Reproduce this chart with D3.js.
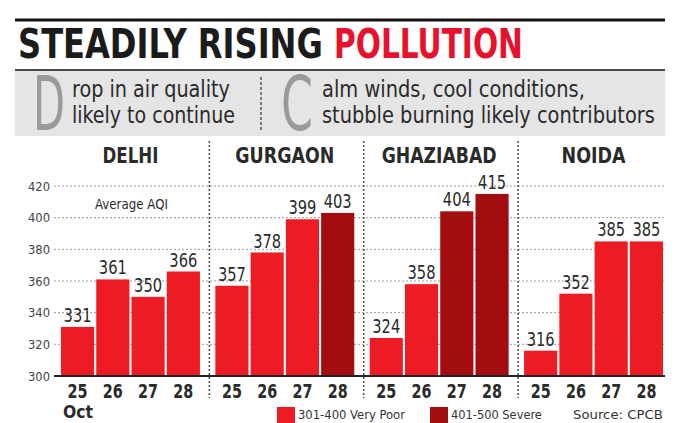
<!DOCTYPE html>
<html>
<head>
<meta charset="utf-8">
<script src="https://cdn.jsdelivr.net/npm/d3@7"></script>
<style>
  html, body { margin: 0; padding: 0; background: #fff; }
  svg { display: block; }
  text { font-family: "DejaVu Sans Condensed", "Liberation Sans Narrow", "Liberation Sans", sans-serif; }
</style>
</head>
<body>
<svg id="chart" width="680" height="423"></svg>
<script>
// ---- data ----
const cities = ["DELHI", "GURGAON", "GHAZIABAD", "NOIDA"];
const days = ["25", "26", "27", "28"];
const delhiAQI = [331, 361, 350, 366];
const gurgaonAQI = [357, 378, 399, 403];
const ghaziabadAQI = [324, 358, 404, 415];
const noidaAQI = [316, 352, 385, 385];
const yTicks = [300, 320, 340, 360, 380, 400, 420];
const legendLabels = ["301-400 Very Poor", "401-500 Severe"];
const titleDark = "STEADILY RISING";
const titleRed = "POLLUTION";
const noteLeft = ["rop in air quality", "likely to continue"];
const noteRight = ["alm winds, cool conditions,", "stubble burning likely contributors"];

const seriesByCity = [delhiAQI, gurgaonAQI, ghaziabadAQI, noidaAQI];
const red = "#ed1c24", darkRed = "#a20d10", textDark = "#2a2a2a";

const svg = d3.select("#chart");

// helper: put text at (x,y) and squeeze it horizontally to a target width
function addText(parent, x, y, str, opts, width) {
  const t = parent.append("text").attr("x", 0).attr("y", 0).text(str);
  Object.entries(opts).forEach(([k, v]) => t.attr(k, v));
  const nat = t.node().getComputedTextLength();
  const s = width ? width / nat : 1;
  t.attr("transform", `translate(${x},${y}) scale(${s},1)`);
  return t;
}

// ---- header ----
svg.append("line").attr("x1", 15).attr("x2", 665).attr("y1", 20).attr("y2", 20)
  .attr("stroke", "#111").attr("stroke-width", 3);
addText(svg, 18, 58, titleDark, { "font-size": 40, "font-weight": 900, fill: "#1b1b1b" }, 305);
addText(svg, 334, 58, titleRed, { "font-size": 40, "font-weight": 900, fill: "#e8112d" }, 189);

svg.append("rect").attr("x", 15).attr("y", 70).attr("width", 650).attr("height", 66).attr("fill", "#e5e5e5");
svg.append("line").attr("x1", 15).attr("x2", 665).attr("y1", 70).attr("y2", 70)
  .attr("stroke", "#4a4a4a").attr("stroke-width", 2);
svg.append("line").attr("x1", 261).attr("x2", 261).attr("y1", 77).attr("y2", 131)
  .attr("stroke", "#555").attr("stroke-width", 1.5).attr("stroke-dasharray", "3,2");

addText(svg, 33, 130, "D", { "font-size": 74, fill: "#9a9a9a" }, 32);
addText(svg, 281, 130, "C", { "font-size": 74, fill: "#9a9a9a" }, 32);

const noteLenL = [158, 163], noteLenR = [263, 333];
noteLeft.forEach((t, i) => addText(svg, 72, 97 + i * 26, t, { "font-size": 23, fill: textDark }, noteLenL[i]));
noteRight.forEach((t, i) => addText(svg, 322, 97 + i * 26, t, { "font-size": 23, fill: textDark }, noteLenR[i]));

// ---- scales ----
const y = d3.scaleLinear().domain([300, 420]).range([376, 186]);
const xCity = d3.scaleBand().domain(cities).range([61, 663]).paddingInner(0.1).paddingOuter(0);
const xDay = d3.scaleBand().domain(days).range([0, xCity.bandwidth()]).paddingInner(0.06).paddingOuter(0);

// gridlines
svg.append("g").selectAll("line").data(yTicks.filter(d => d > 300)).join("line")
  .attr("x1", 54).attr("x2", 665)
  .attr("y1", d => y(d)).attr("y2", d => y(d))
  .attr("stroke", "#9a9a9a").attr("stroke-width", 1).attr("stroke-dasharray", "2,2");

// y tick labels (right-aligned at x=50)
yTicks.forEach(v => {
  addText(svg, 28, y(v) + 4.5, String(v), { "font-size": 13, fill: "#444" }, 22);
});

// dividers
svg.append("g").selectAll("line").data(cities.slice(1)).join("line")
  .attr("x1", d => xCity(d) - 6).attr("x2", d => xCity(d) - 6)
  .attr("y1", 141).attr("y2", 398)
  .attr("stroke", "#555").attr("stroke-width", 1.6).attr("stroke-dasharray", "2,2");

addText(svg, 95, 209, "Average AQI", { "font-size": 14, fill: textDark }, 73);

const cityW = { DELHI: 56, GURGAON: 99, GHAZIABAD: 115, NOIDA: 64 };

// panels
cities.forEach((c, ci) => {
  const g = svg.append("g").attr("transform", `translate(${xCity(c)},0)`);
  const vals = seriesByCity[ci];
  const cw = cityW[c];
  addText(g, xCity.bandwidth() / 2 - cw / 2, 163, c, { "font-size": 21, "font-weight": 700, fill: textDark }, cw);
  g.selectAll("rect").data(vals).join("rect")
    .attr("x", (d, i) => xDay(days[i]))
    .attr("width", xDay.bandwidth())
    .attr("y", d => y(d))
    .attr("height", d => y(300) - y(d))
    .attr("fill", d => d > 400 ? darkRed : red);
  vals.forEach((v, i) => {
    const w = 28;
    addText(g, xDay(days[i]) + xDay.bandwidth() / 2 - w / 2, y(v) - 5, String(v),
      { "font-size": 20, fill: textDark }, w);
  });
  days.forEach(d => {
    const w = 20;
    addText(g, xDay(d) + xDay.bandwidth() / 2 - w / 2, 398, d,
      { "font-size": 20, "font-weight": 700, fill: textDark }, w);
  });
});

// baseline
svg.append("line").attr("x1", 54).attr("x2", 665).attr("y1", y(300)).attr("y2", y(300))
  .attr("stroke", "#222").attr("stroke-width", 2);

addText(svg, 63, 418, "Oct", { "font-size": 18, "font-weight": 700, fill: textDark }, 30);

// legend
const legX = [277, 430];
const legW = [107, 91];
legendLabels.forEach((t, i) => {
  svg.append("rect").attr("x", legX[i]).attr("y", 407).attr("width", 18).attr("height", 16)
    .attr("fill", i === 0 ? red : darkRed);
  addText(svg, legX[i] + 21, 419, t, { "font-size": 13, fill: "#333" }, legW[i]);
});
addText(svg, 573, 419, "Source: CPCB", { "font-size": 13, fill: "#333" }, 90);
</script>
</body>
</html>
